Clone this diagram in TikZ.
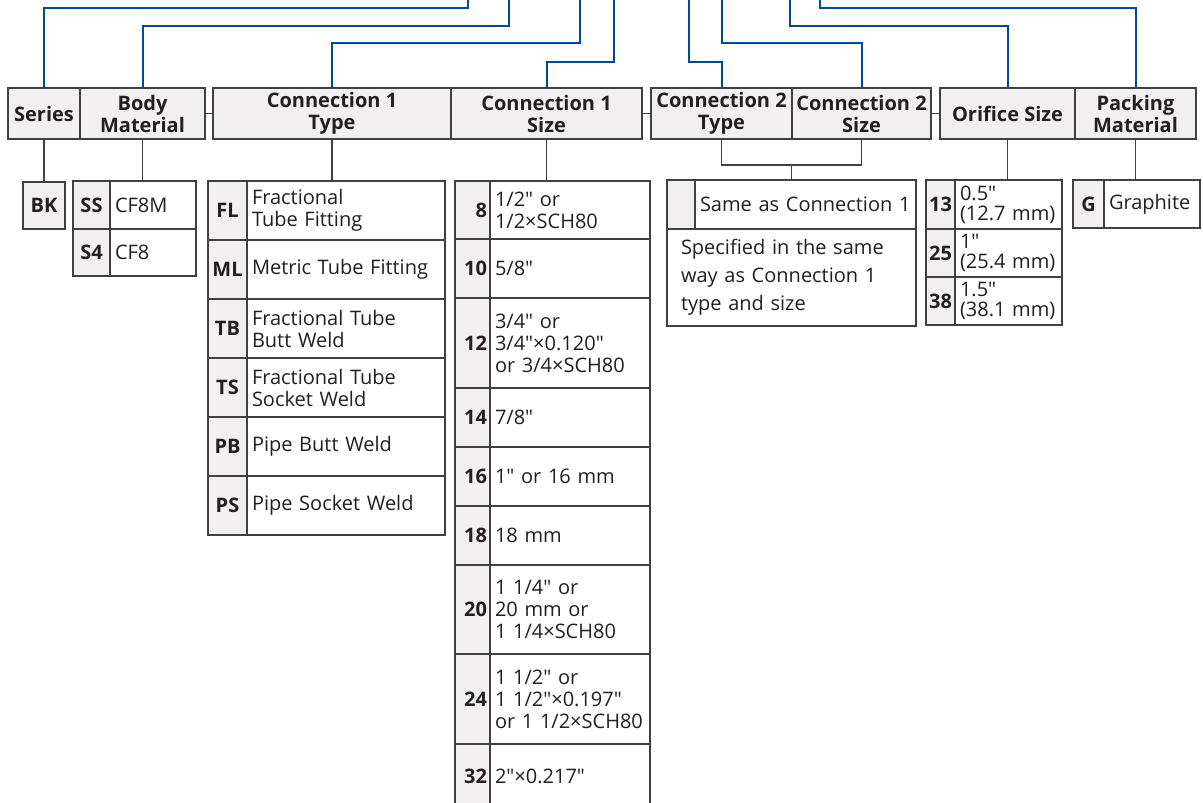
\documentclass[tikz,border=0pt]{standalone}
\usepackage{fontspec}
\setmainfont{Open Sans}[Ligatures=TeXOff]
\usepackage{xcolor}
\usepackage{tikz}
\usetikzlibrary{calc}

\definecolor{feedblue}{RGB}{0,72,152}
\definecolor{linegray}{RGB}{64,64,64}
\definecolor{cellgray}{RGB}{241,239,240}
\definecolor{inkdark}{RGB}{35,31,32}
\newcommand{\optfont}{\fontsize{20}{22}\selectfont}
% one option row: code cell + description cell
\newcommand{\optrow}[8][code]{%
  \node[#1, text width={#4-6}, minimum height=#6, anchor=north west] (#2-c) at (#3) {#7};
  \node[desc, text width={#5-10}, minimum height=#6, anchor=north west] (#2-t) at (#2-c.north east) {#8};}

\begin{document}
\begin{tikzpicture}[x=1pt, y=-1pt, font=\optfont, text=inkdark,
  hd/.style={draw=linegray, line width=1.4pt, fill=cellgray, font=\optfont\bfseries,
    align=center, minimum height=51, inner sep=0pt, outer sep=0pt},
  code/.style={draw=linegray, line width=1.4pt, fill=cellgray, font=\optfont\bfseries,
    align=center, inner xsep=3pt, inner ysep=0pt, outer sep=0pt},
  num/.style={code, align=right},
  desc/.style={draw=linegray, line width=1.4pt, fill=white, align=left,
    inner xsep=5pt, inner ysep=0pt, outer sep=0pt},
  stem/.style={draw=linegray, line width=1.4pt},
  feed/.style={draw=feedblue, line width=2pt}]
  \useasboundingbox (0,0) rectangle (1203,803);
  \clip (0,0) rectangle (1203,803);
  % header row
  \node[hd, minimum width=72]  (series)  at (44,113.5)   {Series};
  \node[hd, minimum width=125] (body)    at (142.5,113.5) {Body\\Material};
  \node[hd, minimum width=238] (c1type)  at (332,113.5)  {Connection 1\\Type};
  \node[hd, minimum width=191] (c1size)  at (546.5,113.5) {Connection 1\\Size};
  \node[hd, minimum width=141] (c2type)  at (721.5,113.5) {Connection 2\\Type};
  \node[hd, minimum width=139] (c2size)  at (861.5,113.5) {Connection 2\\Size};
  \node[hd, minimum width=135] (orifice) at (1007.5,113.5) {Orifice Size};
  \node[hd, minimum width=121] (packing) at (1135.5,113.5) {Packing\\Material};
  \draw[stem] (body.east) -- (c1type.west);
  \draw[stem] (c1size.east) -- (c2type.west);
  \draw[stem] (c2size.east) -- (orifice.west);
  % blue feed lines from the model number above
  \foreach \n/\x/\y in {series/468/8, body/509/26, c1type/580/43, c1size/614/62,
      c2type/689/62, c2size/722/43, orifice/790/26, packing/820/8} {
    \coordinate (top-\n) at (\x,0);
    \draw[feed] (top-\n) -- (\x,\y) -| (\n.north);
  }
  % series and body material
  \node[code, text width=36, minimum height=47, anchor=north west] (bk) at (23,182) {BK};
  \optrow{ss}{73,181}{37}{86}{48}{SS}{CF8M}
  \optrow{s4}{73,229}{37}{86}{47}{S4}{CF8}
  \draw[stem] (series.south) -- (series.south |- bk.north);
  \draw[stem] (body.south) -- (body.south |- ss-c.north);
  % connection 1 type
  \optrow{fl}{208,181}{39}{198}{59}{FL}{Fractional\\Tube Fitting}
  \optrow{ml}{208,240}{39}{198}{59}{ML}{Metric Tube Fitting}
  \optrow{tb}{208,299}{39}{198}{59}{TB}{Fractional Tube\\Butt Weld}
  \optrow{ts}{208,358}{39}{198}{59}{TS}{Fractional Tube\\Socket Weld}
  \optrow{pb}{208,417}{39}{198}{59}{PB}{Pipe Butt Weld}
  \optrow{ps}{208,476}{39}{198}{59}{PS}{Pipe Socket Weld}
  \draw[stem] (c1type.south) -- (c1type.south |- fl-c.north);
  % connection 1 size
  \optrow[num]{s8}{455,181}{35}{160}{58}{8}{1/2" or\\1/2×SCH80}
  \optrow[num]{s10}{455,239}{35}{160}{59}{10}{5/8"}
  \optrow[num]{s12}{455,298}{35}{160}{90}{12}{3/4" or\\3/4"×0.120"\\or 3/4×SCH80}
  \optrow[num]{s14}{455,388}{35}{160}{59}{14}{7/8"}
  \optrow[num]{s16}{455,447}{35}{160}{59}{16}{1" or 16 mm}
  \optrow[num]{s18}{455,506}{35}{160}{59}{18}{18 mm}
  \optrow[num]{s20}{455,565}{35}{160}{89}{20}{1 1/4" or\\20 mm or\\1 1/4×SCH80}
  \optrow[num]{s24}{455,654}{35}{160}{90}{24}{1 1/2" or\\1 1/2"×0.197"\\or 1 1/2×SCH80}
  \optrow[num]{s32}{455,744}{35}{160}{64}{32}{2"×0.217"}
  \draw[stem] (c1size.south) -- (c1size.south |- s8-c.north);
  % connection 2 type and size
  \optrow{same}{667,180}{28}{221}{49}{}{Same as Connection 1}
  \node[desc, text width=221, minimum height=97, anchor=north west,
    inner xsep=14pt, font=\fontsize{20}{28}\selectfont] (spec) at (same-c.south west)
    {Specified in the same\\way as Connection 1\\type and size};
  \coordinate (c2join) at ($(c2type.south)!.5!(c2size.south)+(0,26)$);
  \draw[stem] (c2type.south) |- (c2join) -| (c2size.south);
  \draw[stem] (c2join) -- (c2join |- same-c.north);
  % orifice size
  \begin{scope}[desc/.append style={font=\fontsize{20}{20}\selectfont}]
    \optrow[num]{o13}{926,180}{29}{107}{49}{13}{0.5"\\(12.7 mm)}
    \optrow[num]{o25}{926,229}{29}{107}{48}{25}{1"\\(25.4 mm)}
    \optrow[num]{o38}{926,277}{29}{107}{48}{38}{1.5"\\(38.1 mm)}
  \end{scope}
  \draw[stem] (orifice.south) -- (orifice.south |- o13-c.north);
  % packing material
  \optrow{g}{1073,180}{31}{96}{48}{G}{Graphite}
  \draw[stem] (packing.south) -- (packing.south |- g-c.north);
\end{tikzpicture}
\end{document}
